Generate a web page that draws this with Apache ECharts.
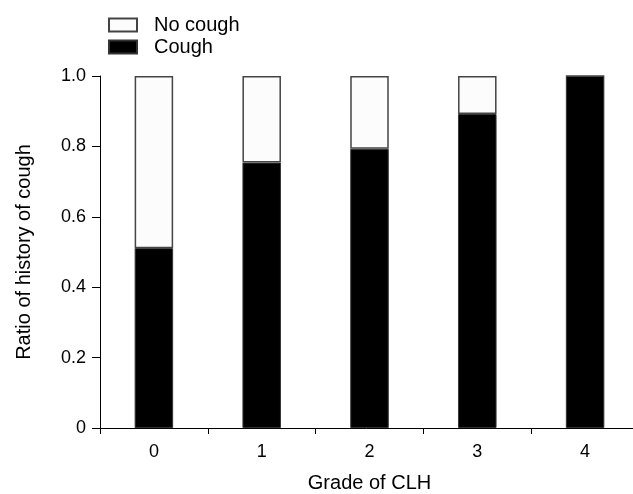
<!DOCTYPE html>
<html>
<head>
<meta charset="utf-8">
<script src="https://cdn.jsdelivr.net/npm/echarts@6/dist/echarts.min.js"></script>
<style>html,body{margin:0;padding:0;background:#fff;}#c{width:633px;height:494px;}</style>
</head>
<body>
<div id="c"></div>
<script>
const categories = ['0', '1', '2', '3', '4'];
const cough = [0.511, 0.754, 0.793, 0.892, 1.0];
const noCough = [0.489, 0.246, 0.207, 0.108, 0];
const yTicks = [0, 0.2, 0.4, 0.6, 0.8, 1.0];

const font = 'Liberation Sans, Arial, sans-serif';
const chart = echarts.init(document.getElementById('c'), null, {renderer: 'canvas'});
chart.setOption({
  animation: false,
  backgroundColor: '#ffffff',
  textStyle: {fontFamily: font},
  legend: {
    orient: 'vertical',
    left: 108,
    top: 15,
    padding: 0,
    itemWidth: 28,
    itemHeight: 13,
    itemGap: 2,
    icon: 'rect',
    data: ['No cough', 'Cough'],
    textStyle: {fontFamily: font, fontSize: 20, color: '#000', padding: [0, 0, 0, 12]}
  },
  grid: {left: 100, top: 76, width: 539, height: 352, outerBoundsMode: 'none', containLabel: false},
  xAxis: {
    type: 'category',
    data: categories,
    name: 'Grade of CLH',
    nameLocation: 'middle',
    nameGap: 45,
    nameTextStyle: {fontFamily: font, fontSize: 20, color: '#000'},
    axisLine: {lineStyle: {color: '#000', width: 1}},
    axisTick: {show: true, length: 6, lineStyle: {color: '#000'}},
    axisLabel: {fontFamily: font, fontSize: 18, color: '#000', margin: 15}
  },
  yAxis: {
    type: 'value',
    min: 0,
    max: 1,
    interval: 0.2,
    name: 'Ratio of history of cough',
    nameLocation: 'middle',
    nameGap: 66,
    nameTextStyle: {fontFamily: font, fontSize: 20, color: '#000'},
    axisLine: {show: true, lineStyle: {color: '#000', width: 1}},
    axisTick: {show: true, length: 8, lineStyle: {color: '#000'}},
    splitLine: {show: false},
    axisLabel: {
      fontFamily: font, fontSize: 18, color: '#000', margin: 14,
      formatter: function (v) {
        const t = yTicks.find(x => Math.abs(x - v) < 1e-9);
        if (t === undefined) return '';
        return t === 0 ? '0' : t.toFixed(1);
      }
    }
  },
  series: [
    {
      name: 'Cough',
      type: 'bar',
      stack: 's',
      data: cough,
      barWidth: 38.5,
      itemStyle: {color: '#000000', borderColor: '#333', borderWidth: 1}
    },
    {
      name: 'No cough',
      type: 'bar',
      stack: 's',
      data: noCough,
      barWidth: 38.5,
      itemStyle: {color: '#fcfcfc', borderColor: '#444', borderWidth: 1.5}
    }
  ]
});
</script>
</body>
</html>
